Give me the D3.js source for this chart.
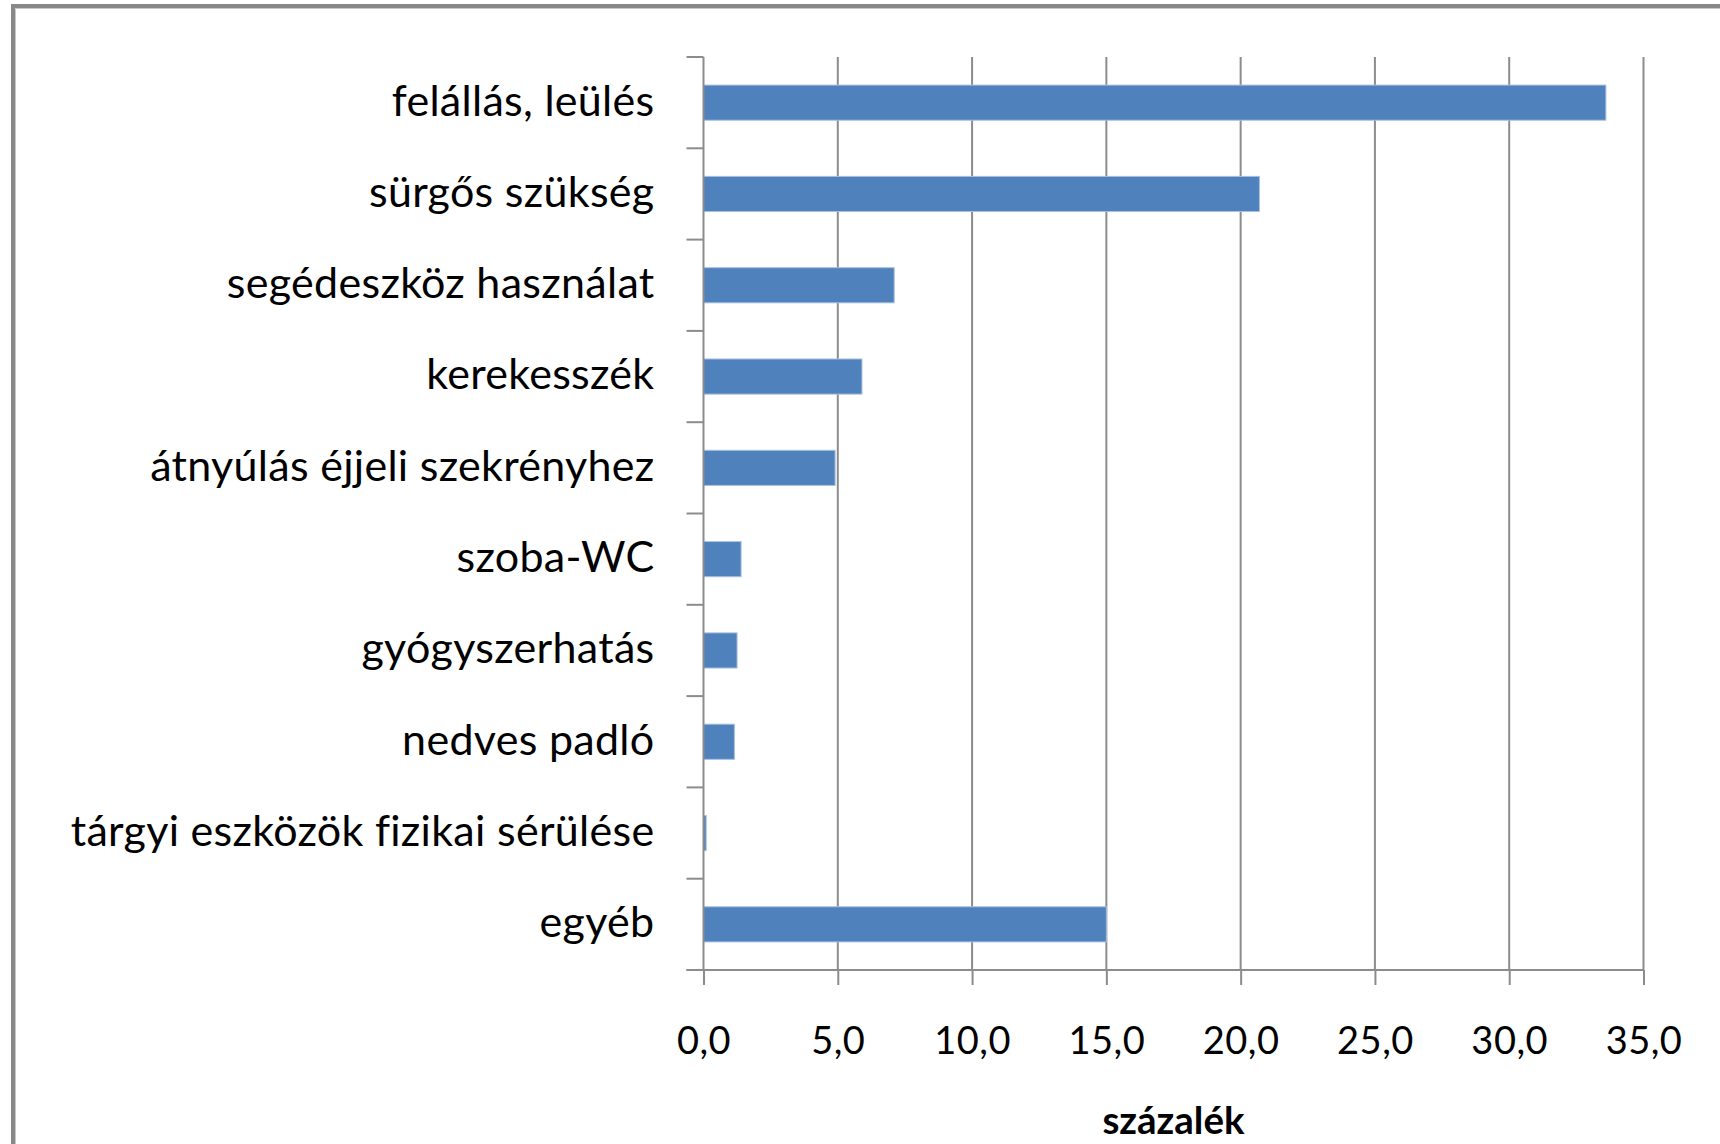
<!DOCTYPE html>
<meta charset="utf-8">
<style>
    body {
        margin: 0;
        background: #fff;
        font-family: Lato, "Open Sans", sans-serif;
    }
    .grid line {
        stroke: #8c8c8c;
        stroke-width: 2px;
    }
</style>
<script src="https://d3js.org/d3.v7.min.js"></script>
<div id="chart"></div>
<script>

    // data
    var categories = [
        "felállás, leülés",
        "sürgős szükség",
        "segédeszköz használat",
        "kerekesszék",
        "átnyúlás éjjeli szekrényhez",
        "szoba-WC",
        "gyógyszerhatás",
        "nedves padló",
        "tárgyi eszközök fizikai sérülése",
        "egyéb"
    ];
    var values = [33.6, 20.7, 7.1, 5.9, 4.9, 1.4, 1.25, 1.15, 0.1, 15.0];
    var xTicks = [0, 5, 10, 15, 20, 25, 30, 35];
    var xTitle = "százalék";

    var W = 1720, H = 1144;
    var margin = {top: 57, right: 76.5, bottom: 174, left: 703.5},
        width = W - margin.left - margin.right,
        height = H - margin.top - margin.bottom;

    var data = categories.map(function(c, i) { return {name: c, value: values[i]}; });

    var svg = d3.select("#chart")
        .append("svg")
        .attr("width", W)
        .attr("height", H);

    svg.append("rect")
        .attr("width", W)
        .attr("height", H)
        .attr("fill", "#fff");

    // outer frame (top and left edges visible)
    svg.append("line")
        .attr("x1", 11).attr("x2", W)
        .attr("y1", 6).attr("y2", 6)
        .attr("stroke", "#888").attr("stroke-width", 4);
    svg.append("line")
        .attr("x1", 13).attr("x2", 13)
        .attr("y1", 4).attr("y2", H)
        .attr("stroke", "#888").attr("stroke-width", 4);
    svg.append("line")
        .attr("x1", 15.5).attr("x2", W)
        .attr("y1", 8.5).attr("y2", 8.5)
        .attr("stroke", "#c8c8c8").attr("stroke-width", 1);
    svg.append("line")
        .attr("x1", 15.5).attr("x2", 15.5)
        .attr("y1", 8.5).attr("y2", H)
        .attr("stroke", "#c8c8c8").attr("stroke-width", 1);

    var g = svg.append("g")
        .attr("transform", "translate(" + margin.left + "," + margin.top + ")");

    var x = d3.scaleLinear()
        .domain([0, 35])
        .range([0, width]);

    var y = d3.scaleBand()
        .domain(categories)
        .range([0, height])
        .paddingInner(0.615)
        .paddingOuter(0.3075);

    var locale = d3.formatLocale({decimal: ",", thousands: " ", grouping: [3], currency: ["", ""]});
    var fmt = locale.format(".1f");

    // vertical gridlines
    g.append("g")
        .attr("class", "grid")
        .selectAll("line")
        .data(xTicks.slice(1))
        .enter()
        .append("line")
        .attr("x1", function(d) { return x(d); })
        .attr("x2", function(d) { return x(d); })
        .attr("y1", 0)
        .attr("y2", height);

    // bars
    g.selectAll(".bar")
        .data(data)
        .enter()
        .append("rect")
        .attr("class", "bar")
        .attr("x", x(0))
        .attr("y", function(d) { return y(d.name); })
        .attr("width", function(d) { return x(d.value) - x(0); })
        .attr("height", y.bandwidth())
        .attr("fill", "#4f81bd")
        .attr("stroke", "#a9c1e0")
        .attr("stroke-width", 1);

    // x axis
    var xAxis = g.append("g")
        .attr("transform", "translate(0," + height + ")")
        .call(d3.axisBottom(x)
            .tickValues(xTicks)
            .tickSize(15)
            .tickPadding(42)
            .tickFormat(fmt));
    xAxis.select(".domain").remove();
    xAxis.selectAll(".tick line")
        .attr("stroke", "#8c8c8c")
        .attr("stroke-width", 2);
    xAxis.selectAll(".tick text")
        .attr("fill", "#000")
        .style("font-family", "Lato, sans-serif")
        .style("font-size", "38px")
        .style("letter-spacing", "0.5px");
    xAxis.append("line")
        .attr("x1", -17).attr("x2", x(35))
        .attr("y1", 0).attr("y2", 0)
        .attr("stroke", "#8c8c8c")
        .attr("stroke-width", 2);

    // y axis: line, ticks between categories, labels
    var step = y.step();
    var yTickPos = d3.range(categories.length + 1).map(function(i) {
        return y(categories[0]) - y.paddingOuter() * step + i * step;
    });
    g.append("line")
        .attr("x1", 0).attr("x2", 0)
        .attr("y1", 0).attr("y2", height)
        .attr("stroke", "#8c8c8c")
        .attr("stroke-width", 2);
    g.selectAll(".ytick")
        .data(yTickPos)
        .enter()
        .append("line")
        .attr("class", "ytick")
        .attr("x1", -17).attr("x2", 0)
        .attr("y1", function(d) { return d; })
        .attr("y2", function(d) { return d; })
        .attr("stroke", "#8c8c8c")
        .attr("stroke-width", 2);

    g.selectAll(".ylabel")
        .data(categories)
        .enter()
        .append("text")
        .attr("class", "ylabel")
        .attr("x", -49)
        .attr("y", function(d) { return y(d) + y.bandwidth() / 2; })
        .attr("dy", "0.3em")
        .attr("text-anchor", "end")
        .style("font-size", "43px")
        .style("letter-spacing", "0.3px")
        .style("fill", "#000")
        .text(function(d) { return d; });

    // axis title
    g.append("text")
        .attr("x", width / 2)
        .attr("y", height + 164)
        .attr("text-anchor", "middle")
        .style("font-size", "38.5px")
        .style("font-weight", "bold")
        .style("fill", "#000")
        .text(xTitle);

</script>
